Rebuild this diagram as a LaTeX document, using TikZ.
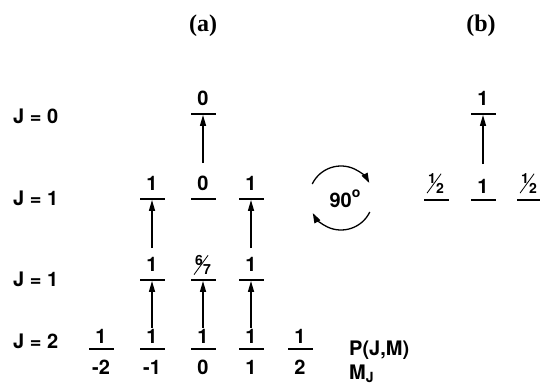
\documentclass[tikz,border=0pt]{standalone}
\usepackage{fontspec}
\usepackage{graphicx}
\setmainfont{TeX Gyre Heros}
\newfontfamily\serifbf{Liberation Serif}
\usetikzlibrary{arrows.meta,positioning}
\newcommand{\slfrac}[2]{\rlap{\kern-1.5pt\rotatebox{54}{\rule{24pt}{0.8pt}}}\raisebox{9.5pt}{\fontsize{14}{14}\selectfont #1}{\fontsize{14}{14}\selectfont #2}}
\begin{document}
\begin{tikzpicture}[x=1pt,y=-1pt,
  lvl/.style={minimum width=25pt, minimum height=1.5pt, inner sep=0pt, fill=black},
  lab/.style={font=\fontsize{20}{20}\selectfont\bfseries, inner sep=0pt},
  ttl/.style={font=\serifbf\bfseries\fontsize{24}{24}\selectfont, inner sep=0pt},
  arr/.style={line width=1.4pt, -{Triangle[length=11pt,width=6pt]}},
  rot/.style={line width=1.3pt, -{Triangle[length=10pt,width=6.5pt]}}]
\useasboundingbox (0,0) rectangle (540,385);
% titles
\node[ttl] (ta) at (203,26) {(a)};
\node[ttl] (tb) at (481,26) {(b)};
% row labels
\node[lab,anchor=west] (j0) at (13,116) {J = 0};
\node[lab,anchor=west] (j1a) at (13,198) {J = 1};
\node[lab,anchor=west] (j1b) at (13,279) {J = 1};
\node[lab,anchor=west] (j2) at (13,341) {J = 2};
% levels (a)
\node[lvl] (L0) at (203,114) {};
\node[lvl] (L1m) at (152,199) {};
\node[lvl] (L10) at (203,199) {};
\node[lvl] (L1p) at (251,199) {};
\node[lvl] (K1m) at (152,280) {};
\node[lvl] (K10) at (203,280) {};
\node[lvl] (K1p) at (251,280) {};
\node[lvl] (M2m) at (101,349) {};
\node[lvl] (M1m) at (152,349) {};
\node[lvl] (M0) at (203,349) {};
\node[lvl] (M1p) at (251,349) {};
\node[lvl] (M2p) at (300,349) {};
% levels (b)
\node[lvl] (B0) at (483,114) {};
\node[lvl] (B1m) at (436,200) {};
\node[lvl] (B10) at (483,200) {};
\node[lvl] (B1p) at (529,200) {};
% populations
\node[lab,anchor=south] (pL0) at ([yshift=7pt]L0.north) {0};
\node[lab,anchor=south] (pL1m) at ([yshift=7pt]L1m.north) {1};
\node[lab,anchor=south] (pL10) at ([yshift=7pt]L10.north) {0};
\node[lab,anchor=south] (pL1p) at ([yshift=7pt]L1p.north) {1};
\node[lab,anchor=south] (pK1m) at ([yshift=7pt]K1m.north) {1};
\node[lab,anchor=south] (pK10) at ([yshift=4pt]K10.north) {\slfrac{6}{7}};
\node[lab,anchor=south] (pK1p) at ([yshift=7pt]K1p.north) {1};
\node[lab,anchor=south] (pM2m) at ([yshift=4pt]M2m.north) {1};
\node[lab,anchor=south] (pM1m) at ([yshift=4pt]M1m.north) {1};
\node[lab,anchor=south] (pM0) at ([yshift=4pt]M0.north) {1};
\node[lab,anchor=south] (pM1p) at ([yshift=4pt]M1p.north) {1};
\node[lab,anchor=south] (pM2p) at ([yshift=4pt]M2p.north) {1};
\node[lab,anchor=north] (mM2m) at ([yshift=-10pt]M2m.south) {-2};
\node[lab,anchor=north] (mM1m) at ([yshift=-10pt]M1m.south) {-1};
\node[lab,anchor=north] (mM0) at ([yshift=-10pt]M0.south) {0};
\node[lab,anchor=north] (mM1p) at ([yshift=-10pt]M1p.south) {1};
\node[lab,anchor=north] (mM2p) at ([yshift=-10pt]M2p.south) {2};
\node[lab,anchor=south] (pB0) at ([yshift=7pt]B0.north) {1};
\node[lab,anchor=south] (pB1m) at ([yshift=5.5pt]B1m.north) {\slfrac{1}{2}};
\node[lab,anchor=south] (pB10) at ([yshift=5.5pt]B10.north) {1};
\node[lab,anchor=south] (pB1p) at ([yshift=5.5pt]B1p.north) {\slfrac{1}{2}};
% legend
\node[lab,anchor=base west] (pjm) at (349,355) {P(J,M)};
\node[lab,anchor=base west] (mj) at (349,379) {M\textsubscript{J}};
% arrows
\coordinate (s0) at (203,163);
\coordinate (s1m) at (152,248);
\coordinate (s1p) at (251,248);
\coordinate (sb) at (483,164);
\draw[arr] (s0) -- (L0);
\draw[arr] (s1m) -- (L1m);
\draw[arr] (s1p) -- (L1p);
\draw[arr, shorten <=1.5pt] (pM1m) -- (K1m);
\draw[arr, shorten <=1.5pt] (pM0) -- (K10);
\draw[arr, shorten <=1.5pt] (pM1p) -- (K1p);
\draw[arr] (sb) -- (B0);
% rotation
\coordinate (rc) at (341,198);
\node[lab] (deg) at (345,199) {90\raisebox{10pt}{\fontsize{14}{14}\selectfont o}};
\draw[rot] ([shift={(154:32pt)}]rc) arc[start angle=154,end angle=28,radius=32pt];
\draw[rot] ([shift={(-26:32pt)}]rc) arc[start angle=-26,end angle=-152,radius=32pt];
\end{tikzpicture}
\end{document}
